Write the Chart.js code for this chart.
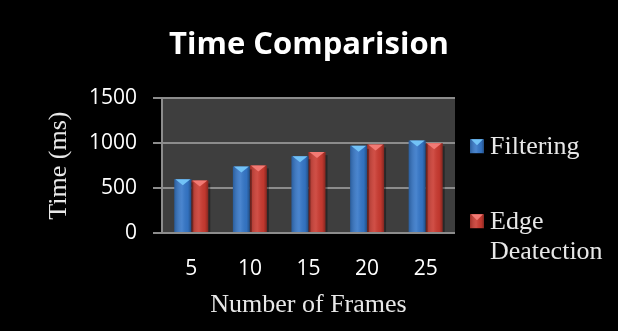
<!DOCTYPE html>
<html>
<head>
<meta charset="utf-8">
<script src="https://cdn.jsdelivr.net/npm/chart.js@4"></script>
<style>
  html, body { margin: 0; padding: 0; background: #000; }
  #wrap { width: 618px; height: 331px; }
</style>
</head>
<body>
<div id="wrap"><canvas id="c" width="618" height="331"></canvas></div>
<script>
// Processing time per frame count
const frameCounts = ['5', '10', '15', '20', '25'];
const filteringMs = [597, 741, 855, 970, 1030];
const edgeDetectionMs = [585, 752, 900, 985, 1000];
const yTicks = [0, 500, 1000, 1500];
const seriesNames = [['Filtering'], ['Edge', 'Deatection']];
const seriesColors = ['#3577c9', '#cb3b31'];
const bevelColors = ['#72c2f6', '#f27a74'];

const SERIF = '"Liberation Serif", "DejaVu Serif", serif';
const SANS = '"Open Sans", "Noto Sans", sans-serif';

// dark plot-area background
const plotBackground = {
  id: 'plotBackground',
  beforeDraw(chart) {
    const { ctx, chartArea: a } = chart;
    ctx.save();
    ctx.fillStyle = '#3e3e3e';
    ctx.fillRect(a.left, a.top, a.right - a.left, a.bottom - a.top);
    ctx.restore();
  }
};

// cylinder-like shading and bevelled top on each bar
function shadeBar(ctx, left, right, top, bottom, bevel) {
  const w = right - left;
  const g = ctx.createLinearGradient(left, 0, right, 0);
  g.addColorStop(0, 'rgba(0,0,0,0.22)');
  g.addColorStop(0.45, 'rgba(255,255,255,0.10)');
  g.addColorStop(0.8, 'rgba(0,0,0,0.05)');
  g.addColorStop(1, 'rgba(0,0,0,0.35)');
  ctx.fillStyle = g;
  ctx.fillRect(left, top, w, bottom - top);
  ctx.fillStyle = bevel;
  ctx.beginPath();
  ctx.moveTo(left + 1, top);
  ctx.lineTo(right - 1, top);
  ctx.lineTo(left + w * 0.5, top + Math.min(6, (bottom - top)));
  ctx.closePath();
  ctx.fill();
}

const barShading = {
  id: 'barShading',
  afterDatasetsDraw(chart) {
    const { ctx, chartArea: a } = chart;
    ctx.save();
    ctx.beginPath();
    ctx.rect(a.left, a.top - 2, a.right - a.left, a.bottom - a.top + 2);
    ctx.clip();
    chart.data.datasets.forEach((ds, di) => {
      const meta = chart.getDatasetMeta(di);
      meta.data.forEach(bar => {
        const p = bar.getProps(['x', 'y', 'width', 'base'], true);
        const l = p.x - p.width / 2, r = p.x + p.width / 2;
        // soft shadow to the right
        ctx.fillStyle = 'rgba(0,0,0,0.35)';
        ctx.fillRect(r, p.y + 3, 2, p.base - p.y - 3);
        shadeBar(ctx, l, r, p.y, p.base, bevelColors[di]);
      });
    });
    ctx.restore();
  }
};

// legend on the right with wrapped labels
const sideLegend = {
  id: 'sideLegend',
  afterDraw(chart) {
    const { ctx, chartArea: a } = chart;
    const boxX = a.right + 15, textX = a.right + 35;
    const itemTops = [a.top + 41, a.top + 116];
    ctx.save();
    ctx.font = '26px ' + SERIF;
    ctx.textBaseline = 'alphabetic';
    chart.data.datasets.forEach((ds, di) => {
      const top = itemTops[di];
      const size = 14;
      ctx.fillStyle = ds.backgroundColor;
      ctx.fillRect(boxX, top, size, size);
      shadeBar(ctx, boxX, boxX + size, top, top + size, bevelColors[di]);
      ctx.fillStyle = '#e8e8e8';
      const lines = Array.isArray(ds.label) ? ds.label : [ds.label];
      lines.forEach((line, li) => {
        ctx.fillText(line, textX, top + 15 + li * 30);
      });
    });
    ctx.restore();
  }
};

new Chart(document.getElementById('c'), {
  type: 'bar',
  data: {
    labels: frameCounts,
    datasets: [
      { label: seriesNames[0], data: filteringMs, backgroundColor: seriesColors[0] },
      { label: seriesNames[1], data: edgeDetectionMs, backgroundColor: seriesColors[1] }
    ]
  },
  options: {
    responsive: false,
    animation: false,
    categoryPercentage: 0.58,
    barPercentage: 1.0,
    layout: { padding: 0 },
    plugins: {
      legend: { display: false },
      tooltip: { enabled: false },
      title: {
        display: true,
        text: 'Time Comparision',
        color: '#ffffff',
        font: { family: SANS, size: 31, weight: 'bold' },
        padding: { top: 27, bottom: 34 }
      }
    },
    scales: {
      x: {
        grid: { display: false, drawTicks: false },
        border: { display: false },
        ticks: { color: '#ffffff', font: { family: SANS, size: 21 }, padding: 23 },
        title: {
          display: true,
          text: 'Number of Frames',
          color: '#e8e8e8',
          font: { family: SERIF, size: 26 },
          padding: { top: 0, bottom: 10 }
        },
        afterFit(s) { s.height = 98; }
      },
      y: {
        min: 0,
        max: 1500,
        afterBuildTicks(s) { s.ticks = yTicks.map(v => ({ value: v })); },
        grid: { color: '#8c8c8c', lineWidth: 2, tickLength: 9 },
        border: { color: '#8c8c8c', width: 2 },
        ticks: {
          color: '#ffffff',
          font: { family: SANS, size: 21 },
          padding: 16,
          callback: v => String(v)
        },
        title: {
          display: true,
          text: 'Time (ms)',
          color: '#e8e8e8',
          font: { family: SERIF, size: 26 },
          padding: { top: 44, bottom: 0 }
        },
        afterFit(s) { s.width = 162; }
      },
      // empty right-hand band that holds the legend
      legendBand: {
        type: 'linear',
        position: 'right',
        grid: { display: false, drawTicks: false },
        border: { display: false },
        ticks: { display: false },
        afterFit(s) { s.width = 163; }
      }
    }
  },
  plugins: [plotBackground, barShading, sideLegend]
});
</script>
</body>
</html>
